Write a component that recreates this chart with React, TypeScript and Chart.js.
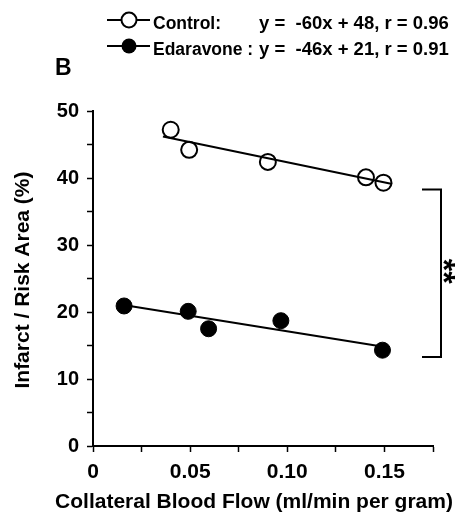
import React, { useEffect, useRef } from "react";
import { Chart, registerables } from "chart.js";
Chart.register(...registerables);

const CONTROL_X = [0.04, 0.0495, 0.09, 0.1405, 0.1495];
const CONTROL_Y = [47.2, 44.2, 42.4, 40.1, 39.3];
const EDARAVONE_X = [0.016, 0.049, 0.0595, 0.0967, 0.149];
const EDARAVONE_Y = [20.9, 20.1, 17.5, 18.7, 14.3];
const CONTROL_FIT_X = [0.036, 0.154];
const CONTROL_FIT_Y = [46.2, 39.1];
const EDARAVONE_FIT_X = [0.0165, 0.1495];
const EDARAVONE_FIT_Y = [21.0, 14.8];
const BRACKET_Y = [13.3, 38.3];
const X_TICK_VALUES = [0, 0.05, 0.1, 0.15];
const X_TICK_LABELS = ["0", "0.05", "0.10", "0.15"];
const Y_TICK_VALUES = [0, 10, 20, 30, 40, 50];
const Y_TICK_LABELS = ["0", "10", "20", "30", "40", "50"];
const LEGEND_LABELS = ["Control:", "Edaravone :"];
const LEGEND_EQUATIONS = ["y =  -60x + 48, r = 0.96", "y =  -46x + 21, r = 0.91"];
const PANEL_LABEL = "B";
const X_TITLE = "Collateral Blood Flow (ml/min per gram)";
const Y_TITLE = "Infarct / Risk Area (%)";
const SIGNIFICANCE = "**";

const FONT = '"Liberation Sans", Arial, Helvetica, sans-serif';

function toPts(xs: number[], ys: number[]) {
  return xs.map((x, i) => ({ x, y: ys[i] }));
}

const overlay = {
  id: "overlay",
  afterDraw(chart: any) {
    const { ctx, chartArea, scales } = chart;
    const ys = scales.y;
    ctx.save();
    ctx.fillStyle = "#000";
    ctx.strokeStyle = "#000";

    // legend
    const rows = [20, 46];
    rows.forEach((cy, i) => {
      ctx.lineWidth = 2;
      ctx.beginPath();
      ctx.moveTo(107, cy);
      ctx.lineTo(150, cy);
      ctx.stroke();
      ctx.beginPath();
      ctx.arc(129, cy, 7.5, 0, Math.PI * 2);
      if (i === 0) {
        ctx.fillStyle = "#fff";
        ctx.fill();
        ctx.stroke();
      } else {
        ctx.fillStyle = "#000";
        ctx.fill();
      }
      ctx.fillStyle = "#000";
      ctx.font = `bold 17.5px ${FONT}`;
      ctx.textAlign = "left";
      ctx.textBaseline = "alphabetic";
      ctx.fillText(LEGEND_LABELS[i], 153, cy + 8.5);
      ctx.font = `bold 18.5px ${FONT}`;
      ctx.fillText(LEGEND_EQUATIONS[i], 259, cy + 8.5);
    });

    // panel label
    ctx.font = `bold 23px ${FONT}`;
    ctx.fillText(PANEL_LABEL, 55, 75);

    // bracket
    const yTop = ys.getPixelForValue(BRACKET_Y[1]);
    const yBot = ys.getPixelForValue(BRACKET_Y[0]);
    const bx = chartArea.right + 8;
    ctx.lineWidth = 2;
    ctx.beginPath();
    ctx.moveTo(chartArea.right - 11, yTop);
    ctx.lineTo(bx, yTop);
    ctx.lineTo(bx, yBot);
    ctx.lineTo(chartArea.right - 11, yBot);
    ctx.stroke();

    // significance
    ctx.save();
    ctx.translate(bx + 1, (yTop + yBot) / 2 - 2);
    ctx.rotate(Math.PI / 2);
    ctx.font = `bold 32px ${FONT}`;
    ctx.textAlign = "center";
    ctx.textBaseline = "middle";
    ctx.fillText(SIGNIFICANCE, 0, 0);
    ctx.restore();

    // axis titles
    ctx.font = `bold 21px ${FONT}`;
    ctx.textAlign = "center";
    ctx.textBaseline = "middle";
    ctx.fillText(X_TITLE, 254, 502);
    ctx.save();
    ctx.translate(23, 280);
    ctx.rotate(-Math.PI / 2);
    ctx.fillText(Y_TITLE, 0, 0);
    ctx.restore();

    ctx.restore();
  },
};

export default function App() {
  const ref = useRef<HTMLCanvasElement | null>(null);
  useEffect(() => {
    document.body.style.margin = "0";
    const canvas = ref.current;
    if (!canvas) return;
    const chart = new Chart(canvas, {
      type: "scatter",
      data: {
        datasets: [
          {
            label: "Control",
            data: toPts(CONTROL_X, CONTROL_Y),
            pointRadius: 8,
            pointBorderWidth: 2,
            pointBackgroundColor: "rgba(0,0,0,0)",
            pointBorderColor: "#000",
            order: 1,
            clip: false,
          } as any,
          {
            label: "Edaravone",
            data: toPts(EDARAVONE_X, EDARAVONE_Y),
            pointRadius: 8,
            pointBorderWidth: 1,
            pointBackgroundColor: "#000",
            pointBorderColor: "#000",
            order: 1,
            clip: false,
          } as any,
          {
            label: "Control fit",
            data: toPts(CONTROL_FIT_X, CONTROL_FIT_Y),
            showLine: true,
            pointRadius: 0,
            borderColor: "#000",
            borderWidth: 2,
            order: 2,
            clip: false,
          } as any,
          {
            label: "Edaravone fit",
            data: toPts(EDARAVONE_FIT_X, EDARAVONE_FIT_Y),
            showLine: true,
            pointRadius: 0,
            borderColor: "#000",
            borderWidth: 2,
            order: 2,
            clip: false,
          } as any,
        ],
      },
      options: {
        responsive: false,
        animation: false,
        layout: { padding: { top: 111, right: 29, left: 0, bottom: 0 } },
        plugins: {
          legend: { display: false },
          tooltip: { enabled: false },
        },
        scales: {
          x: {
            type: "linear",
            min: 0,
            max: 0.175,
            afterFit: (s: any) => {
              s.height = 71;
            },
            border: { display: true, color: "#000", width: 2 },
            grid: {
              drawOnChartArea: false,
              drawTicks: true,
              tickLength: 6,
              tickColor: "#000",
              tickWidth: 1.5,
            },
            ticks: {
              stepSize: 0.025,
              color: "#000",
              padding: 8,
              maxRotation: 0,
              autoSkip: false,
              font: { family: FONT, size: 21, weight: "bold" },
              callback: (v: any) => {
                const i = X_TICK_VALUES.findIndex((t) => Math.abs(t - Number(v)) < 1e-6);
                return i >= 0 ? X_TICK_LABELS[i] : "";
              },
            },
          },
          y: {
            type: "linear",
            min: 0,
            max: 50,
            afterFit: (s: any) => {
              s.width = 93;
            },
            border: { display: true, color: "#000", width: 2 },
            grid: {
              drawOnChartArea: false,
              drawTicks: true,
              tickLength: 6,
              tickColor: "#000",
              tickWidth: 1.5,
            },
            ticks: {
              stepSize: 5,
              color: "#000",
              padding: 8,
              autoSkip: false,
              font: { family: FONT, size: 20, weight: "bold" },
              callback: (v: any) => {
                const i = Y_TICK_VALUES.findIndex((t) => Math.abs(t - Number(v)) < 1e-6);
                return i >= 0 ? Y_TICK_LABELS[i] : "";
              },
            },
          },
        },
      },
      plugins: [overlay],
    });
    return () => chart.destroy();
  }, []);
  return (
    <div style={{ width: 462, height: 517 }}>
      <canvas ref={ref} width={462} height={517} />
    </div>
  );
}
